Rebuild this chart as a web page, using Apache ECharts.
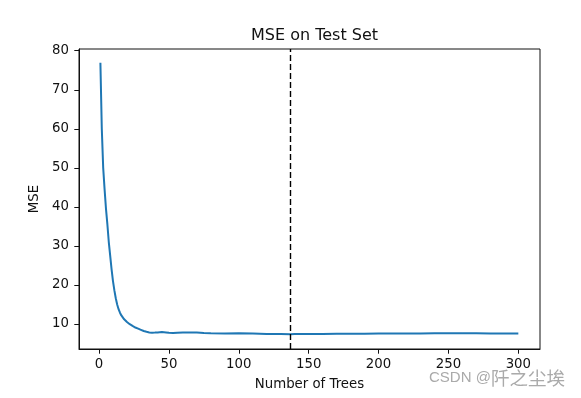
<!DOCTYPE html>
<html>
<head>
<meta charset="utf-8">
<script src="https://cdn.jsdelivr.net/npm/echarts@6/dist/echarts.min.js"></script>
<style>html,body{margin:0;padding:0;background:#fff;}#c{width:581px;height:398px;}</style>
</head>
<body>
<div id="c"></div>
<script>
// Number of trees (x) and MSE on the test set (y)
const trees = [1,2,3,4,5,6,7,8,9,10,11,12,13,14,15,16,17,18,19,20,
  21,22,23,24,25,26,27,28,29,30,31,32,33,34,35,36,37,38,39,40,
  42,45,48,50,53,56,60,65,70,75,80,90,100,110,120,130,137,140,150,160,
  170,180,190,200,210,220,230,240,250,260,270,280,290,300];
const mse = [76.9,60,50,44.5,39.5,35.5,31,27.5,24,21,18.6,16.6,15,13.8,12.9,12.2,11.7,11.2,10.8,10.5,
  10.2,9.95,9.7,9.5,9.3,9.1,8.95,8.8,8.65,8.5,8.35,8.2,8.1,8.0,7.9,7.85,7.8,7.78,7.75,7.8,
  7.85,7.95,7.85,7.75,7.7,7.75,7.8,7.85,7.8,7.7,7.65,7.6,7.62,7.6,7.45,7.42,7.38,7.42,7.45,7.47,
  7.48,7.5,7.52,7.55,7.55,7.57,7.6,7.62,7.63,7.62,7.62,7.6,7.6,7.6];
const bestTrees = 137;
const xTicks = [0,50,100,150,200,250,300];
const yTicks = [10,20,30,40,50,60,70,80];

const FONT = 'DejaVu Sans';
const chart = echarts.init(document.getElementById('c'), null, {renderer: 'canvas'});
chart.setOption({
  backgroundColor: '#fff',
  animation: false,
  title: {
    text: 'MSE on Test Set',
    left: 309.5, top: 23, textAlign: 'center',
    textStyle: {fontFamily: FONT, fontSize: 16, fontWeight: 'normal', color: '#111'}
  },
  grid: {left: 79, right: 41, top: 49, bottom: 49, show: true, borderColor: '#111', borderWidth: 1},
  xAxis: {
    type: 'value', min: -14.31, max: 315.5,
    name: 'Number of Trees', nameLocation: 'middle', nameGap: 29,
    nameTextStyle: {fontFamily: FONT, fontSize: 13.3, color: '#111'},
    axisLine: {show: true, onZero: false, lineStyle: {color: '#111', width: 1}},
    axisTick: {show: true, length: 4.7, customValues: xTicks, lineStyle: {color: '#111', width: 1}},
    axisLabel: {customValues: xTicks, margin: 9, fontFamily: FONT, fontSize: 13.3, color: '#111'},
    splitLine: {show: false}
  },
  yAxis: {
    type: 'value', min: 3.6, max: 80.44,
    name: 'MSE', nameLocation: 'middle', nameGap: 34, nameRotate: 90,
    nameTextStyle: {fontFamily: FONT, fontSize: 13.3, color: '#111'},
    axisLine: {show: true, onZero: false, lineStyle: {color: '#111', width: 1}},
    axisTick: {show: true, length: 4.7, customValues: yTicks, lineStyle: {color: '#111', width: 1}},
    axisLabel: {customValues: yTicks, margin: 10, fontFamily: FONT, fontSize: 13.3, color: '#111'},
    splitLine: {show: false}
  },
  series: [{
    type: 'line',
    data: trees.map((t, i) => [t, mse[i]]),
    showSymbol: false,
    lineStyle: {color: '#1f77b4', width: 2},
    itemStyle: {color: '#1f77b4'},
    markLine: {
      silent: true, symbol: 'none', label: {show: false},
      lineStyle: {color: '#000', type: [6, 3], width: 1.4},
      data: [{xAxis: bestTrees}]
    }
  }],
  graphic: [{
    type: 'text', left: 429, top: 369,
    style: {
      text: '{a|CSDN @}{b|阡之尘埃}',
      rich: {
        a: {fontFamily: 'Liberation Sans', fontSize: 15, fill: '#aaa'},
        b: {fontFamily: 'Noto Sans CJK SC', fontSize: 18.5, fill: '#aaa'}
      }
    }
  }]
});
</script>
</body>
</html>
